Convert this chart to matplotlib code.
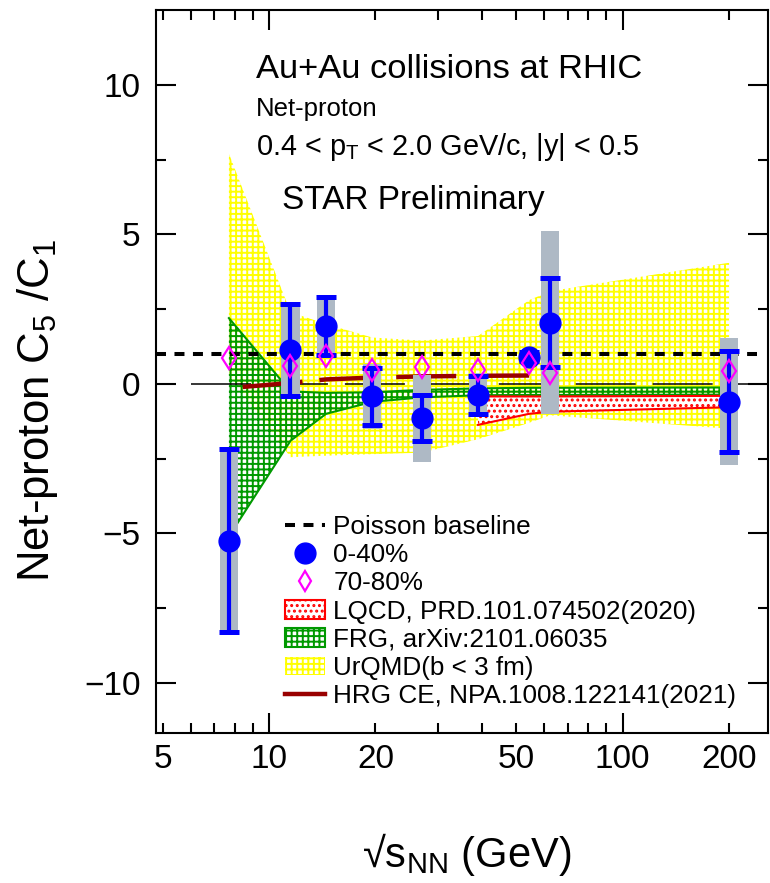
import matplotlib
matplotlib.use('Agg')
import matplotlib.pyplot as plt
import numpy as np
from matplotlib.lines import Line2D
from matplotlib.patches import Patch
from matplotlib.ticker import FixedLocator, FixedFormatter

plt.rcParams['font.family'] = ['Liberation Sans', 'DejaVu Sans']
plt.rcParams['mathtext.fontset'] = 'custom'
plt.rcParams['mathtext.rm'] = 'Liberation Sans'
plt.rcParams['mathtext.it'] = 'Liberation Sans:italic'
plt.rcParams['hatch.linewidth'] = 1.4
plt.rcParams['lines.scale_dashes'] = False

# collision energies (GeV)
energy = [7.7, 11.5, 14.5, 19.6, 27, 39, 54.4, 62.4, 200]

# STAR preliminary net-proton C5/C1
c51_central = [-5.24, 1.14, 1.94, -0.42, -1.15, -0.37, 0.91, 2.05, -0.59]
stat_central = [3.07, 1.54, 0.96, 0.95, 0.77, 0.65, 0.15, 1.50, 1.70]
sys_central = [3.12, 1.48, 0.95, 1.08, 1.45, 0.75, 0.20, 3.06, 2.11]
c51_peripheral = [0.86, 0.60, 0.94, 0.47, 0.55, 0.47, 0.71, 0.36, 0.43]

# model bands
urqmd_hi = [7.7, 2.4, 2.0, 1.55, 1.45, 1.6, 2.8, 3.1, 4.05]
urqmd_lo = [0.3, -2.45, -2.4, -2.35, -2.3, -1.85, -1.3, -1.05, -1.5]
frg_hi = [2.2, -0.25, -0.3, -0.28, -0.2, -0.15, -0.13, -0.13, -0.12]
frg_lo = [-5.1, -1.9, -1.0, -0.6, -0.45, -0.38, -0.37, -0.37, -0.36]
lqcd_energy = [39, 54.4, 62.4, 200]
lqcd_hi = [-0.42, -0.42, -0.42, -0.40]
lqcd_lo = [-1.37, -1.0, -0.93, -0.78]
hrg_energy = [7.7, 11.5, 14.5, 19.6, 27, 39, 54.4]
hrg_c51 = [-0.14, 0.03, 0.15, 0.21, 0.25, 0.27, 0.28]

x_major = [10, 100]
x_major_labels = ['10', '100']
x_minor = [5, 6, 7, 8, 9, 20, 30, 40, 50, 60, 70, 80, 90, 200]
x_minor_labels = ['5', '', '', '', '', '20', '', '', '50', '', '', '', '', '200']
y_major = [-10, -5, 0, 5, 10]
y_minor = [-7.5, -2.5, 2.5, 7.5]

fig = plt.figure(figsize=(7.7, 8.83), dpi=100)
ax = fig.add_axes([0.2026, 0.1699, 0.7948, 0.8188])
ax.set_xscale('log')
xmin, xmax = 4.79, 257.7
ax.set_xlim(xmin, xmax)
ax.set_ylim(-11.67, 12.5)

yellow = '#ffff00'
green = '#009900'
grey = '#aeb9c5'
darkred = '#990000'
yellow_hatch = '+++'
green_hatch = '+++'
red_hatch = '...'

# bands
ax.fill_between(energy, urqmd_lo, urqmd_hi, facecolor='none', edgecolor=yellow,
                hatch=yellow_hatch, linewidth=0, zorder=1)
ax.fill_between(energy, frg_lo, frg_hi, facecolor='none', edgecolor=green,
                hatch=green_hatch, linewidth=0, zorder=2)
ax.plot(energy, frg_hi, color=green, lw=1.5, zorder=2.1)
ax.plot(energy, frg_lo, color=green, lw=1.5, zorder=2.1)
ax.fill_between(lqcd_energy, lqcd_lo, lqcd_hi, facecolor='white', edgecolor='red',
                hatch=red_hatch, linewidth=0, zorder=2.5)
ax.plot(lqcd_energy, lqcd_hi, color='red', lw=1.5, zorder=2.6)
ax.plot(lqcd_energy, lqcd_lo, color='red', lw=1.5, zorder=2.6)

# reference lines
ax.plot([xmin, xmax], [0, 0], color='black', lw=1.1,
        linestyle=(30.2, (43.2, 12.2)), zorder=3)
ax.plot([xmin, 240], [1, 1], color='black', lw=2.9, dashes=(7.2, 6.1), zorder=3)
ax.plot(hrg_energy, hrg_c51, color=darkred, lw=3.2,
        linestyle=(45.4, (43.2, 12.2)), zorder=3.5)

# systematic boxes (fixed width in log space)
e = np.array(energy)
half = 10 ** (0.0255)
left = e / half
right = e * half
c51 = np.array(c51_central)
sysv = np.array(sys_central)
ax.bar(left, 2 * sysv, width=right - left, bottom=c51 - sysv, align='edge',
       color=grey, linewidth=0, zorder=4)

ax.errorbar(energy, c51_central, yerr=stat_central, fmt='none', ecolor='#0000ff',
            elinewidth=3, capsize=7.2, capthick=3.6, zorder=5)
ax.plot(energy, c51_central, 'o', color='#0000ff', ms=15, zorder=6)
ax.plot(energy, c51_peripheral, 'd', mec='#ff00ff', mfc='none', mew=1.6, ms=11.5, zorder=7)

# axes styling
ax.xaxis.set_major_locator(FixedLocator(x_major))
ax.xaxis.set_minor_locator(FixedLocator(x_minor))
ax.xaxis.set_major_formatter(FixedFormatter(x_major_labels))
ax.xaxis.set_minor_formatter(FixedFormatter(x_minor_labels))
ax.yaxis.set_major_locator(FixedLocator(y_major))
ax.yaxis.set_minor_locator(FixedLocator(y_minor))
ax.tick_params(which='both', direction='in', top=True, right=True, width=1.5,
               labelsize=24)
ax.tick_params(which='major', length=14.4)
ax.tick_params(which='minor', length=7.2)
ax.tick_params(axis='x', which='both', pad=8)
ax.tick_params(axis='y', which='both', pad=11)
for s in ax.spines.values():
    s.set_linewidth(1.5)

# annotations
def ax_px(px, py):
    return (px - 156) / 612, (733 - py) / 723

ax.text(*ax_px(256, 78), 'Au+Au collisions at RHIC', transform=ax.transAxes,
        fontsize=24.8, va='baseline')
ax.text(*ax_px(256, 116), 'Net-proton', transform=ax.transAxes,
        fontsize=18.5, va='baseline')
ax.text(*ax_px(256, 155), r'0.4 < p$_{\mathregular{T}}$ < 2.0 GeV/c, |y| < 0.5',
        transform=ax.transAxes, fontsize=20.8, va='baseline')
ax.text(*ax_px(282, 209), 'STAR Preliminary', transform=ax.transAxes,
        fontsize=24, va='baseline')

fig.text(38 / 770, 1 - 410 / 883, r'Net-proton C$_{\mathregular{5}}$ /C$_{\mathregular{1}}$',
         rotation=90, fontsize=31.5, ha='center', va='center')
fig.text(467 / 770, 1 - 855 / 883, '\u221a' + r's$_{\mathregular{NN}}$ (GeV)',
         fontsize=30, ha='center', va='center')

# legend
handles = [
    Line2D([], [], color='black', lw=2.9, dashes=(7.2, 6.1)),
    Line2D([], [], marker='o', color='#0000ff', ms=15, ls='none'),
    Line2D([], [], marker='d', mec='#ff00ff', mfc='none', mew=1.6, ms=10, ls='none'),
    Patch(facecolor='white', edgecolor='red', hatch=red_hatch, lw=1.5),
    Patch(facecolor='white', edgecolor=green, hatch=green_hatch, lw=1.5),
    Patch(facecolor='white', edgecolor=yellow, hatch=yellow_hatch, lw=0),
    Line2D([], [], color=darkred, lw=3.2),
]
labels = ['Poisson baseline', '0-40%', '70-80%', 'LQCD, PRD.101.074502(2020)',
          'FRG, arXiv:2101.06035', 'UrQMD(b < 3 fm)', 'HRG CE, NPA.1008.122141(2021)']
leg = ax.legend(handles, labels, loc='upper left', bbox_to_anchor=ax_px(285, 515),
                frameon=False, fontsize=18.8, handlelength=1.55, handletextpad=0.3,
                labelspacing=0.16, borderpad=0, borderaxespad=0)
leg.set_zorder(10)

fig.savefig('out.png', dpi=100)
